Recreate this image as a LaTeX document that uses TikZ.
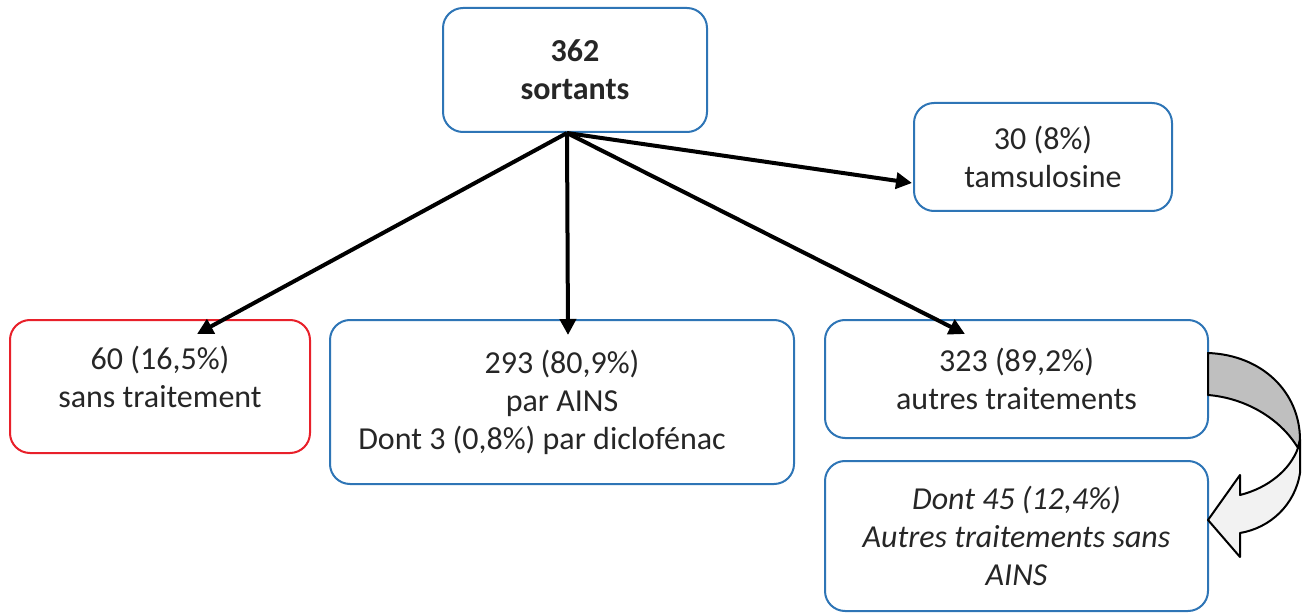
\documentclass[tikz,border=0pt]{standalone}
\usepackage{fontspec}
\setmainfont{Carlito}
\usepackage{tikz}
\usetikzlibrary{arrows.meta,positioning}
\definecolor{boxblue}{RGB}{46,117,182}
\definecolor{boxred}{RGB}{232,32,42}
\definecolor{txtgray}{RGB}{38,38,38}
\begin{document}
\begin{tikzpicture}[x=0.75pt,y=-0.75pt]
			\tikzstyle{Txt}		= [align=center, text=txtgray, font=\fontsize{24}{28.5}\selectfont]
			\tikzstyle{Box}		= [rectangle, rounded corners=15pt, draw=boxblue, line width=1.5pt, fill=white, Txt]
			\tikzstyle{Empty}	= [draw=boxred]
			\tikzstyle{Flow}	= [line width=3pt, -{Triangle[length=12pt,width=12pt]}]
			\tikzstyle{Turn}	= [line width=1.5pt, line join=round]

			\useasboundingbox (0,0) rectangle (1311,613);

			\node (root) at (575,70) [Box][minimum width=198pt, minimum height=93pt] {\textbf{362}\\\textbf{sortants}};
			\node (tams) at (1043,157) [Box][minimum width=193.5pt, minimum height=81pt] {30 (8\%)\\tamsulosine};
			\node (sans) at (160,386.5) [Box][Empty][minimum width=225pt, minimum height=99.75pt] {};
			\node (sansTxt) at ([shift={(0,-10)}]sans.center) [Txt] {60 (16,5\%)\\sans traitement};
			\node (ains) at (562,402) [Box][minimum width=348pt, minimum height=123pt] {293 (80,9\%)\\par AINS\\Dont 3 (0,8\%) par diclofénac\hspace*{30pt}};
			\node (autres) at (1016.5,379) [Box][minimum width=287.25pt, minimum height=88.5pt] {323 (89,2\%)\\autres traitements};
			\node (dont) at (1016.5,536) [Box][minimum width=287.25pt, minimum height=112.5pt] {\itshape Dont 45 (12,4\%)\\\itshape Autres traitements sans\\\itshape AINS};

			\coordinate (hub) at (567,133);

			\draw [Flow] (hub) -- ([shift={(37,15)}]sans.north);
			\draw [Flow] (hub) -- ([shift={(6,16)}]ains.north);
			\draw [Flow] (hub) -- ([shift={(-51.5,15)}]autres.north);
			\draw [Flow] (hub) -- ([shift={(-1,26)}]tams.west);

			% curved arrow from autres to dont
			\draw [Turn, fill=black!25] (1208,353) .. controls (1262,355) and (1300,392) .. (1300,440)
				-- (1298,448) .. controls (1280,418) and (1245,398) .. (1208,395) -- cycle;
			\draw [Turn, fill=black!5] (1298,448) -- (1300,440) -- (1300,473)
				.. controls (1295,505) and (1270,528) .. (1240,533)
				-- (1240,557) -- (1208,520) -- (1240,475) -- (1240,495)
				.. controls (1268,488) and (1290,470) .. (1298,448) -- cycle;
\end{tikzpicture}
\end{document}
